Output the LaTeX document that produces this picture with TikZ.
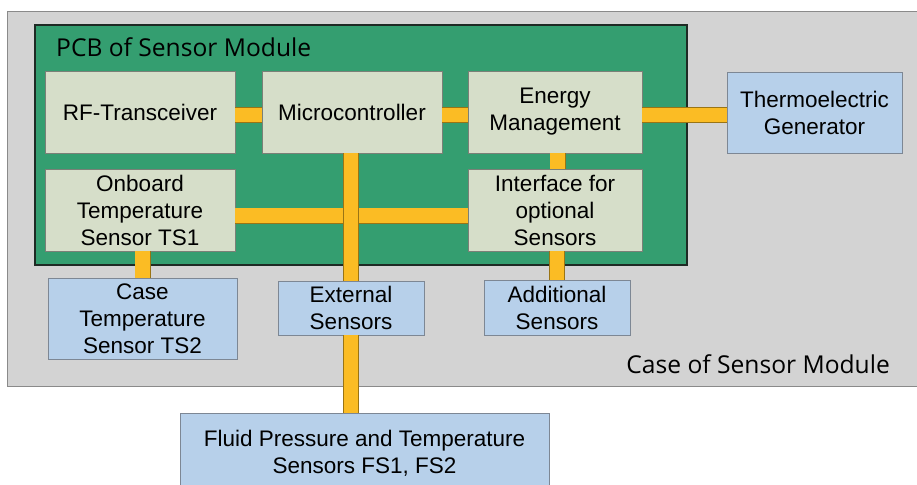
\documentclass[tikz,border=0pt]{standalone}
\usepackage{fontspec}
\setmainfont{Liberation Sans}
\newfontfamily\lblfont{Open Sans}
\usetikzlibrary{positioning}
\definecolor{casefill}{HTML}{D3D3D3}
\definecolor{caseline}{HTML}{8A8A8A}
\definecolor{pcbfill}{HTML}{349E70}
\definecolor{pcbline}{HTML}{1E2A24}
\definecolor{brdfill}{HTML}{D6DEC9}
\definecolor{brdline}{HTML}{7A8077}
\definecolor{snrfill}{HTML}{B7D0EA}
\definecolor{snrline}{HTML}{7D8794}
\definecolor{busfill}{HTML}{FBBC24}
\definecolor{busline}{HTML}{9A7414}
\tikzset{
  brd/.style={draw=brdline, line width=0.9pt, fill=brdfill, align=center, inner sep=0pt, font=\fontsize{22.5}{27}\selectfont},
  snr/.style={brd, draw=snrline, fill=snrfill},
  bus/.style={draw=busline, line width=0.7pt, double=busfill, double distance=14.6pt},
  lbl/.style={font=\lblfont\fontsize{24.6}{29}\selectfont, inner sep=0pt}
}

\begin{document}
\begin{tikzpicture}[x=1pt, y=-1pt]
		\clip (0,0) rectangle (917,484);
		\draw[fill=casefill, draw=caseline, line width=1pt] (7,12) rectangle (930,386);
		\draw[fill=pcbfill, draw=pcbline, line width=1.4pt] (35,25) rectangle (687,265);
		\node[lbl, anchor=base west] (pcblbl) at (56,57) {PCB of Sensor Module};
		\node[lbl, anchor=base east] (caselbl) at (890,373) {Case of Sensor Module};
		\node[brd, minimum width=190pt, minimum height=82pt] (rf) at (140,112) {RF-Transceiver};
		\node[brd, minimum width=180pt, minimum height=82pt] (mc) at (352,112) {Microcontroller};
		\node[brd, minimum width=174pt, minimum height=82pt] (en) at (555,112) {Energy\\Management};
		\node[brd, minimum width=190pt, minimum height=82pt] (ts1) at (140,210) {Onboard\\Temperature\\Sensor TS1};
		\node[brd, minimum width=174pt, minimum height=82pt] (opt) at (555,210) {Interface for\\optional\\Sensors};
		\node[snr, minimum width=175pt, minimum height=81pt] (teg) at (814.5,112.5) {Thermoelectric\\Generator};
		\node[snr, minimum width=189pt, minimum height=81pt] (ts2) at (142.5,318.5) {Case\\Temperature\\Sensor TS2};
		\node[snr, minimum width=146pt, minimum height=54pt] (ext) at (351,308) {External\\Sensors};
		\node[snr, minimum width=146pt, minimum height=55pt] (add) at (557,307.5) {Additional\\Sensors};
		\node[snr, minimum width=369pt, minimum height=80pt] (fl) at (364.5,453) {Fluid Pressure and Temperature\\Sensors FS1, FS2};
		\draw[bus] ([yshift=-3pt]rf.east) -- ([yshift=-3pt]mc.west);
		\draw[bus] ([yshift=-3pt]mc.east) -- ([yshift=-3pt]en.west);
		\draw[bus] ([yshift=-3pt]en.east) -- ([yshift=-3pt]en.east -| teg.west);
		\draw[bus] ([xshift=2.5pt]en.south) -- ([xshift=2.5pt]opt.north);
		\draw[bus] (opt.south -| add.north) -- (add.north);
		\draw[bus] (ts1.south -| ts2.north) -- (ts2.north);
		\draw[bus] ([yshift=-5.5pt]ts1.east) -- ([yshift=-5.5pt]opt.west);
		\draw[bus] (mc.south -| ext.north) -- (ext.north);
		\draw[bus] (ext.south) -- (ext.south |- fl.north);
	\end{tikzpicture}
\end{document}
